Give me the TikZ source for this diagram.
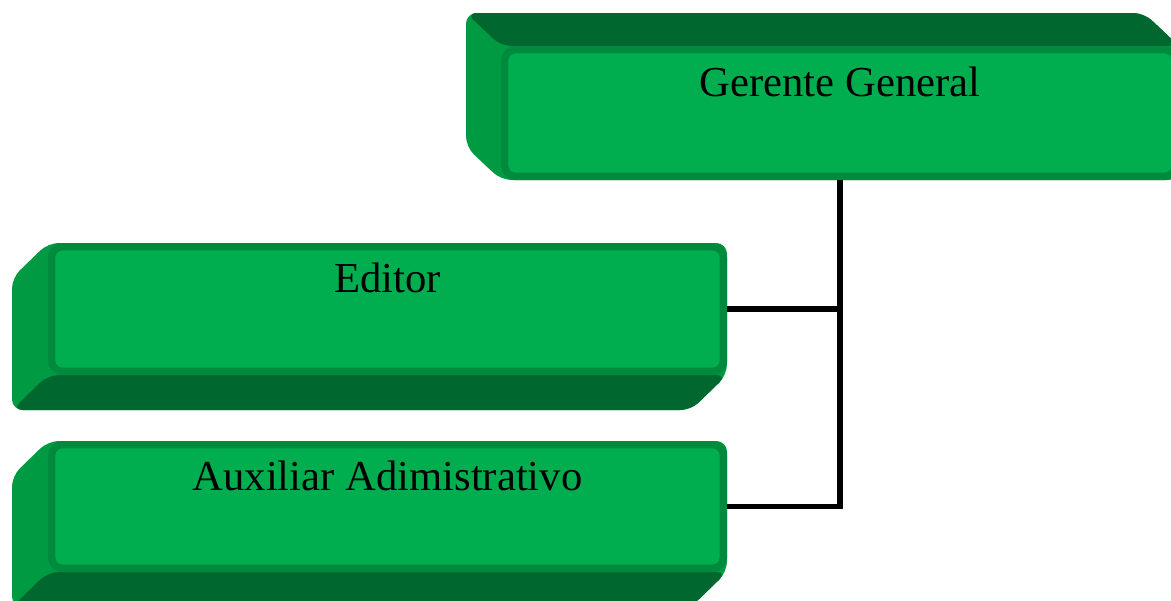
\documentclass[tikz,border=0pt]{standalone}
\usepackage{fontspec}
\setmainfont{Liberation Serif}
\usetikzlibrary{calc}
\usetikzlibrary{backgrounds}
\definecolor{cajaverde}{RGB}{0,174,80}
\definecolor{bordeverde}{RGB}{0,138,61}
\definecolor{ladoverde}{RGB}{0,154,66}
\definecolor{oscuroverde}{RGB}{0,104,46}
\tikzset{
  cargo/.style={draw=bordeverde,fill=cajaverde,line width=5.5pt,rounded corners=8pt,
    inner sep=0pt,text height=34pt,text depth=58.5pt,font=\fontsize{32}{38}\selectfont},
  lado/.style={rounded corners=8pt},
  linea/.style={line width=4pt}
}

\begin{document}
\begin{tikzpicture}[x=0.75pt,y=-0.75pt]
    \useasboundingbox (0,0) rectangle (1171,600);
    \node[cargo,minimum width=503pt,minimum height=95pt] (gerente) at (840,113) {Gerente General};
    \node[cargo,minimum width=503.75pt,minimum height=93.5pt] (editor) at (387.5,309) {Editor};
    \node[cargo,minimum width=503.75pt,minimum height=92.75pt] (auxiliar) at (387.5,506.5) {Auxiliar Adimistrativo};

    \begin{scope}[on background layer]
      % caja de arriba: fondo hacia arriba a la izquierda
      \xdef\dx{-35}\xdef\dy{-33}
      \fill[ladoverde,lado] (gerente.south west) -- ($(gerente.south west)+(\dx,\dy)$)
        -- ($(gerente.north west)+(\dx,\dy)$) -- ($(gerente.north east)+(\dx,\dy)$)
        -- (gerente.north east) -- (gerente.south east) -- cycle;
      \fill[oscuroverde,lado] (gerente.north west) -- ($(gerente.north west)+(\dx,\dy)$)
        -- ($(gerente.north east)+(\dx,\dy)$) -- (gerente.north east) -- cycle;
      % cajas de abajo: fondo hacia abajo a la izquierda
      \foreach \c in {editor,auxiliar}{
        \fill[ladoverde,lado] (\c.north west) -- ($(\c.north west)+(-36,35)$)
          -- ($(\c.south west)+(-36,35)$) -- ($(\c.south east)+(-36,35)$)
          -- (\c.south east) -- (\c.north east) -- cycle;
        \fill[oscuroverde,lado] (\c.south west) -- ($(\c.south west)+(-36,35)$)
          -- ($(\c.south east)+(-36,35)$) -- (\c.south east) -- cycle;
      }
    \end{scope}

    \draw[linea] (gerente.south) |- (auxiliar.east);
    \draw[linea] (editor.east) -- (editor.east -| gerente.south);
\end{tikzpicture}
\end{document}
